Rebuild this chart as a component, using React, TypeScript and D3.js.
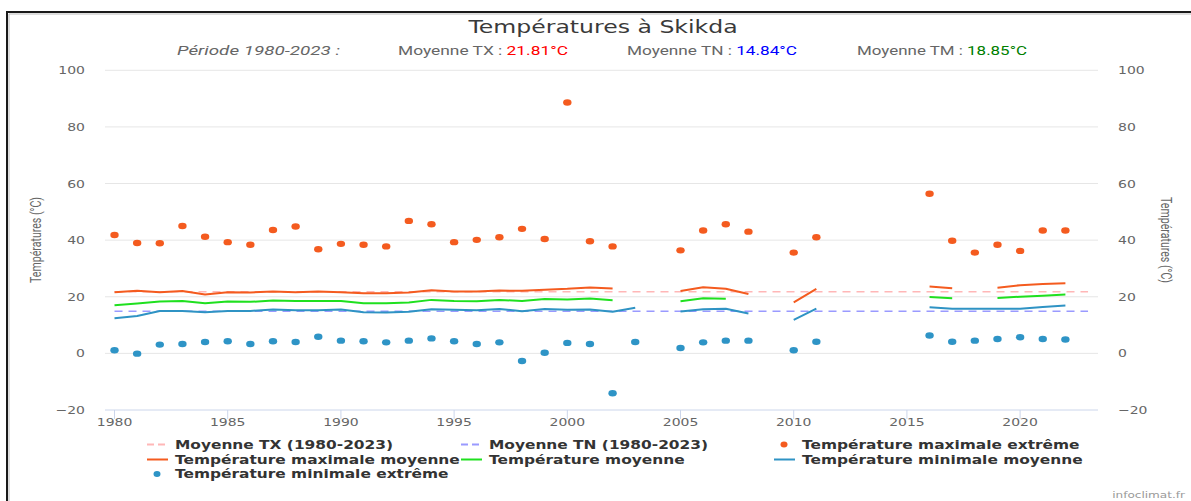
import React from "react";
import * as d3 from "d3";

const years: number[] = d3.range(1980, 2023);

// Température maximale extrême
const maxExtreme: (number | null)[] = [
  41.8, 39.0, 38.9, 45.0, 41.2, 39.3, 38.4, 43.6, 44.8, 36.8,
  38.7, 38.4, 37.8, 46.8, 45.6, 39.3, 40.1, 41.0, 44.0, 40.4,
  88.6, 39.6, 37.8, null, null, 36.4, 43.4, 45.6, 43.0, null,
  35.6, 41.0, null, null, null, null, 56.4, 39.8, 35.6, 38.4,
  36.2, 43.4, 43.4,
];
// Température minimale extrême
const minExtreme: (number | null)[] = [
  1.1, -0.1, 3.1, 3.3, 4.0, 4.3, 3.3, 4.3, 4.0, 5.9,
  4.5, 4.3, 3.9, 4.5, 5.3, 4.3, 3.3, 3.9, -2.7, 0.2,
  3.7, 3.3, -14.1, 4.0, null, 1.9, 3.9, 4.5, 4.5, null,
  1.1, 4.1, null, null, null, null, 6.3, 4.1, 4.5, 5.1,
  5.7, 5.1, 4.9,
];
// Température maximale moyenne
const maxMean: (number | null)[] = [
  21.6, 22.1, 21.6, 22.0, 20.8, 21.6, 21.5, 21.9, 21.6, 21.9,
  21.6, 21.2, 21.2, 21.5, 22.3, 21.9, 21.9, 22.2, 22.1, 22.5,
  22.8, 23.3, 22.9, null, null, 22.0, 23.4, 22.8, 21.0, null,
  18.0, 22.8, null, null, null, null, 23.6, 23.0, null, 23.2,
  24.1, 24.5, 24.8,
];
// Température moyenne
const meanTemp: (number | null)[] = [
  17.0, 17.6, 18.3, 18.5, 17.7, 18.3, 18.2, 18.7, 18.5, 18.5,
  18.5, 17.7, 17.7, 18.0, 18.9, 18.5, 18.4, 18.9, 18.5, 19.2,
  19.0, 19.4, 18.8, null, null, 18.4, 19.5, 19.3, null, null,
  null, null, null, null, null, null, 19.9, 19.5, null, 19.6,
  20.0, 20.4, 20.8,
];
// Température minimale moyenne
const minMean: (number | null)[] = [
  12.4, 13.2, 15.0, 15.0, 14.5, 15.0, 15.0, 15.5, 15.2, 15.2,
  15.5, 14.5, 14.4, 14.7, 15.6, 15.4, 15.2, 15.7, 14.9, 15.7,
  15.4, 15.5, 14.7, 16.1, null, 14.8, 15.6, 15.8, 14.1, null,
  11.8, 15.8, null, null, null, null, 16.3, 15.8, 15.8, 15.8,
  15.8, 16.4, 16.9,
];

const periodStart = 1980;
const periodEnd = 2023;
const meanTX = 21.81;
const meanTN = 14.84;
const meanTM = 18.85;

const yTicks: number[] = [-20, 0, 20, 40, 60, 80, 100];
const xTicks: number[] = [1980, 1985, 1990, 1995, 2000, 2005, 2010, 2015, 2020];

const C_ORANGE = "#f45b1f";
const C_GREEN = "#1fe01f";
const C_BLUE = "#2f93c4";
const C_DOT_BLUE = "#2e94c6";
const C_PINK = "#ffb7b7";
const C_LAV = "#9a9aff";

const SX = 1.27;
const FONT = "'DejaVu Sans', Verdana, sans-serif";
const NARROW = "Roboto, 'Liberation Sans', Arial, sans-serif";

function T(props: any) {
  const { x, y, sx = SX, anchor = "start", size = 11, weight = "normal", fill = "#666", family = FONT, italic = false, children } = props;
  return (
    <text
      transform={`translate(${x},${y}) scale(${sx},1)`}
      textAnchor={anchor}
      fontSize={size}
      fontWeight={weight}
      fill={fill}
      fontFamily={family}
      fontStyle={italic ? "italic" : "normal"}
    >
      {children}
    </text>
  );
}

export default function App() {
  const W = 1191;
  const H = 501;
  const left = 105;
  const right = 1098;
  const top = 70.3;
  const bottom = 410;

  const x = d3.scaleLinear().domain([1979.58, 2023.44]).range([left, right]);
  const y = d3.scaleLinear().domain([-20, 100]).range([bottom, top]);

  const mkLine = (vals: (number | null)[]) =>
    d3
      .line<number>()
      .defined((i) => vals[i] != null)
      .x((i) => x(years[i]))
      .y((i) => y(vals[i] as number))(d3.range(years.length)) || "";

  const lineSeries = [
    { vals: maxMean, color: C_ORANGE },
    { vals: meanTemp, color: C_GREEN },
    { vals: minMean, color: C_BLUE },
  ];

  const dotSeries = [
    { vals: maxExtreme, color: C_ORANGE },
    { vals: minExtreme, color: C_DOT_BLUE },
  ];

  const legendCols = [175, 489, 802];
  const legendRows = [448.5, 463.5, 478];
  const legendItems = [
    { label: `Moyenne TX (${periodStart}-${periodEnd})`, kind: "dash", color: C_PINK },
    { label: `Moyenne TN (${periodStart}-${periodEnd})`, kind: "dash", color: C_LAV },
    { label: "Température maximale extrême", kind: "dot", color: C_ORANGE },
    { label: "Température maximale moyenne", kind: "line", color: C_ORANGE },
    { label: "Température moyenne", kind: "line", color: C_GREEN },
    { label: "Température minimale moyenne", kind: "line", color: C_BLUE },
    { label: "Température minimale extrême", kind: "dot", color: C_DOT_BLUE },
  ];

  const subtitle = [
    { x0: 398, label: "Moyenne TX : ", value: `${meanTX.toFixed(2)}°C`, color: "#ff0000" },
    { x0: 627, label: "Moyenne TN : ", value: `${meanTN.toFixed(2)}°C`, color: "#0000ff" },
    { x0: 857, label: "Moyenne TM : ", value: `${meanTM.toFixed(2)}°C`, color: "#008000" },
  ];

  return (
    <svg
      width={W}
      height={H}
      style={{ position: "absolute", left: 0, top: 0, display: "block", background: "#fff" }}
    >
      <rect x={0} y={0} width={W} height={H} fill="#fff" />
      <rect x={7} y={12} width={1300} height={600} fill="none" stroke="#1a1a1a" strokeWidth={2} />
      <line x1={9} x2={W} y1={14} y2={14} stroke="#bbb" strokeWidth={1} />
      <line x1={9} x2={9} y1={14} y2={H} stroke="#bbb" strokeWidth={1} />

      {/* Title */}
      <T x={603} y={33} anchor="middle" size={18} sx={1.31} fill="#3a3a3a">
        Températures à Skikda
      </T>

      {/* Subtitle */}
      <text x={177} y={55} fontSize={13} fontFamily={NARROW} fontStyle="italic" fill="#666" textLength={163} lengthAdjust="spacingAndGlyphs">
        {`Période ${periodStart}-${periodEnd} :`}
      </text>
      {subtitle.map((s) => (
        <text key={s.label} x={s.x0} y={55} fontSize={13} fontFamily={NARROW} fill="#666" textLength={170} lengthAdjust="spacingAndGlyphs">
          {s.label}
          <tspan fill={s.color}>{s.value}</tspan>
        </text>
      ))}

      {/* Grid */}
      {yTicks.filter((t) => t > -20).map((t) => (
        <line key={"g" + t} x1={left} x2={right} y1={y(t)} y2={y(t)} stroke="#e6e6e6" strokeWidth={1} />
      ))}
      <line x1={left} x2={right} y1={y(-20)} y2={y(-20)} stroke="#ccd6eb" strokeWidth={1} />
      {xTicks.map((t) => (
        <line key={"xt" + t} x1={x(t)} x2={x(t)} y1={bottom} y2={bottom + 9} stroke="#ccd6eb" strokeWidth={1} />
      ))}

      {/* Axis labels */}
      {yTicks.map((t) => (
        <T key={"yl" + t} x={85} y={y(t) + 4} anchor="end">
          {t < 0 ? "\u2212" + Math.abs(t) : String(t)}
        </T>
      ))}
      {yTicks.map((t) => (
        <T key={"yr" + t} x={1118} y={y(t) + 4} anchor="start">
          {t < 0 ? "\u2212" + Math.abs(t) : String(t)}
        </T>
      ))}
      {xTicks.map((t) => (
        <T key={"xl" + t} x={x(t)} y={426} anchor="middle">
          {String(t)}
        </T>
      ))}

      {/* Axis titles */}
      <text
        transform={`translate(41,240) scale(${SX},1) rotate(-90)`}
        textAnchor="middle"
        fontSize={12}
        fontFamily={NARROW}
        fill="#666"
        textLength={86}
        lengthAdjust="spacingAndGlyphs"
      >
        Températures (°C)
      </text>
      <text
        transform={`translate(1161,240) scale(${SX},1) rotate(90)`}
        textAnchor="middle"
        fontSize={12}
        fontFamily={NARROW}
        fill="#666"
        textLength={86}
        lengthAdjust="spacingAndGlyphs"
      >
        Températures (°C)
      </text>

      {/* Reference dashed lines */}
      <line x1={x(periodStart)} x2={x(periodEnd)} y1={y(meanTX)} y2={y(meanTX)} stroke={C_PINK} strokeWidth={1.5} strokeDasharray="8,6" />
      <line x1={x(periodStart)} x2={x(periodEnd)} y1={y(meanTN)} y2={y(meanTN)} stroke={C_LAV} strokeWidth={1.5} strokeDasharray="8,6" />

      {/* Lines */}
      {lineSeries.map((s, i) => (
        <path key={"l" + i} d={mkLine(s.vals)} fill="none" stroke={s.color} strokeWidth={2} strokeLinejoin="round" />
      ))}

      {/* Dots */}
      {dotSeries.map((s, si) =>
        s.vals.map((v, i) =>
          v == null ? null : (
            <ellipse key={`d${si}-${i}`} cx={x(years[i])} cy={y(v)} rx={4.2} ry={3.2} fill={s.color} />
          )
        )
      )}

      {/* Legend */}
      {legendItems.map((it, k) => {
        const cx = legendCols[k % 3];
        const cy = legendRows[Math.floor(k / 3)];
        const sy = cy - 4;
        return (
          <g key={"lg" + k}>
            {it.kind === "dash" && (
              <line x1={cx - 28} x2={cx - 8} y1={sy} y2={sy} stroke={it.color} strokeWidth={2} strokeDasharray="7,4" />
            )}
            {it.kind === "line" && (
              <line x1={cx - 28} x2={cx - 7} y1={sy} y2={sy} stroke={it.color} strokeWidth={2} />
            )}
            {it.kind === "dot" && <ellipse cx={cx - 18} cy={sy} rx={3.5} ry={3} fill={it.color} />}
            <T x={cx} y={cy} size={12} sx={1.285} weight="bold" fill="#333">
              {it.label}
            </T>
          </g>
        );
      })}

      {/* Credit */}
      <T x={1185} y={498} anchor="end" size={9.5} fill="#999">
        infoclimat.fr
      </T>
    </svg>
  );
}
